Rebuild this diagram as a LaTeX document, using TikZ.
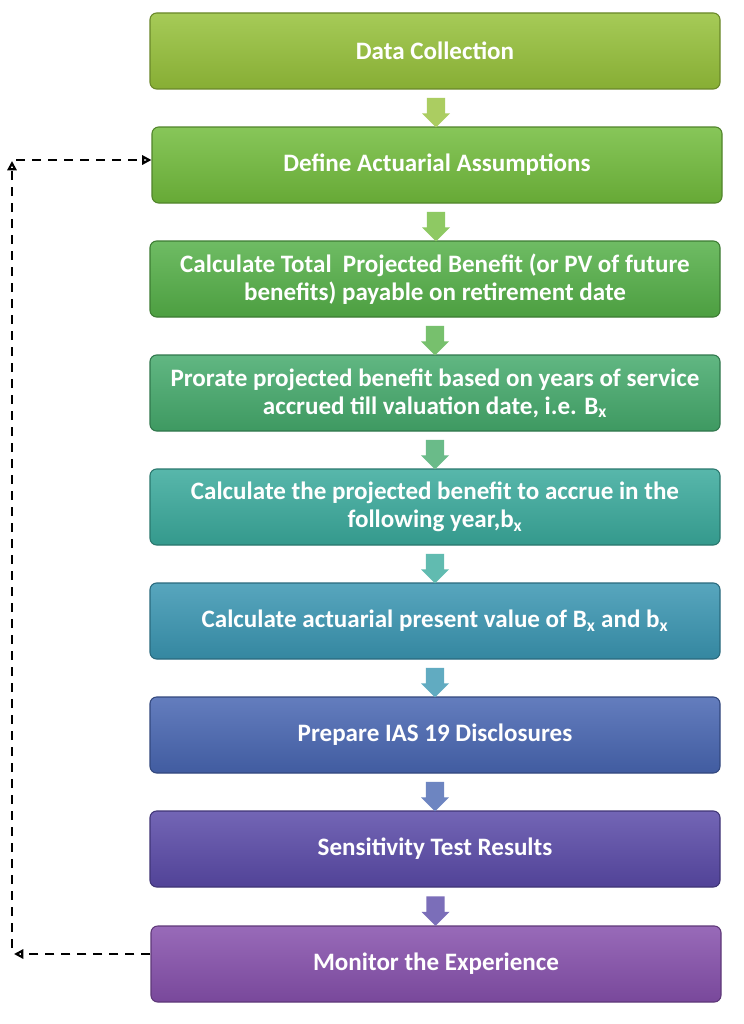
\documentclass[tikz,border=0pt]{standalone}
\usepackage{fontspec}
\setmainfont{Carlito}
\usetikzlibrary{arrows.meta,shapes.arrows}
\begin{document}
\begin{tikzpicture}[x=0.75pt,y=-0.75pt,
  stepbox/.style={draw=#1!70!black,line width=0.8pt,rounded corners=5pt,minimum width=427.5pt,minimum height=57pt,
    top color=#1!85!white,bottom color=#1!90!black,text=white,font=\bfseries\fontsize{18.8}{21}\selectfont,align=center,inner sep=2pt},
  downarrow/.style={single arrow,shape border rotate=270,draw=none,fill=#1!80!white,minimum width=21pt,single arrow head extend=3.5pt,minimum height=22pt,inner sep=6.5pt,text width=0pt},
  fb/.style={dashed,dash pattern=on 7pt off 5pt,line width=1.6pt,-{Triangle[open,length=7pt,width=7pt]}}]
\useasboundingbox[fill=white] (0,0) rectangle (743,1024);
\definecolor{c1}{HTML}{96C13A}
\definecolor{c2}{HTML}{72BC3C}
\definecolor{c3}{HTML}{55B048}
\definecolor{c4}{HTML}{45AA6C}
\definecolor{c5}{HTML}{3AAA9C}
\definecolor{c6}{HTML}{3A96B2}
\definecolor{c7}{HTML}{4866B2}
\definecolor{c8}{HTML}{5A4AA8}
\definecolor{c9}{HTML}{8650AC}
\node[stepbox=c1] (b1) at (435,51) {Data Collection};
\node[stepbox=c2] (b2) at (437,165) {Define Actuarial Assumptions};
\node[stepbox=c3] (b3) at (435,279) {Calculate Total\ \ Projected Benefit (or PV of future\\benefits) payable on retirement date};
\node[stepbox=c4] (b4) at (435,393) {Prorate projected benefit based on years of service\\accrued till valuation date, i.e. B\textsubscript{x}};
\node[stepbox=c5] (b5) at (435,507) {Calculate the projected benefit to accrue in the\\following year,b\textsubscript{x}};
\node[stepbox=c6] (b6) at (435,621) {Calculate actuarial present value of B\textsubscript{x} and b\textsubscript{x}};
\node[stepbox=c7] (b7) at (435,735) {Prepare IAS 19 Disclosures};
\node[stepbox=c8] (b8) at (435,849) {Sensitivity Test Results};
\node[stepbox=c9] (b9) at (436,964) {Monitor the Experience};
\foreach \a/\b/\c in {b1/b2/c1,b2/b3/c2,b3/b4/c3,b4/b5/c4,b5/b6/c5,b6/b7/c6,b7/b8/c7,b8/b9/c8}{
  \path (\a.south) -- (\b.north) node[midway,downarrow=\c] (ar\a) {};
}
\coordinate (cb) at (14,954);
\coordinate (ct) at (12,161);
\draw[fb] (b9.west |- cb) -- (cb);
\draw[fb] (12,948) -- (ct);
\draw[fb] (16,160) -- (b2.west |- 0,160);
\end{tikzpicture}
\end{document}
